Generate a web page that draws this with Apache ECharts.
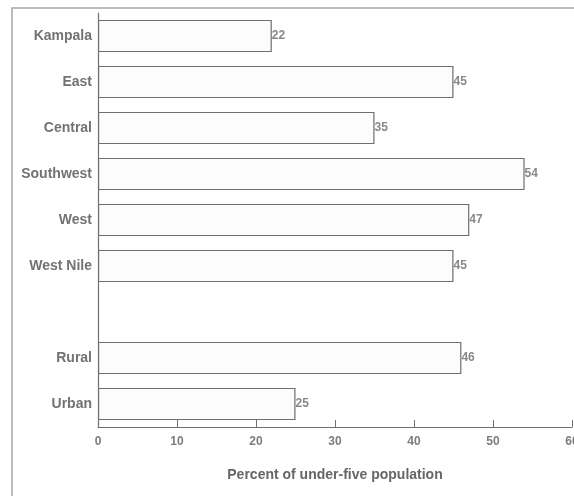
<!DOCTYPE html>
<html>
<head>
<meta charset="utf-8">
<script src="https://cdn.jsdelivr.net/npm/echarts@6/dist/echarts.min.js"></script>
<style>
html,body{margin:0;padding:0;background:#ffffff;}
#c{width:574px;height:496px;}
</style>
</head>
<body>
<div id="c"></div>
<script>
const categories = ['Kampala', 'East', 'Central', 'Southwest', 'West', 'West Nile', '', 'Rural', 'Urban'];
const values = [22, 45, 35, 54, 47, 45, '-', 46, 25];
const xTicks = [0, 10, 20, 30, 40, 50, 60];
const axisTitle = 'Percent of under-five population';

const chart = echarts.init(document.getElementById('c'), null, {renderer: 'canvas'});
chart.setOption({
  animation: false,
  backgroundColor: '#ffffff',
  graphic: [{
    type: 'rect',
    shape: {x: 12, y: 8, width: 600, height: 520},
    style: {fill: 'none', stroke: '#a8a8a8', lineWidth: 1.5},
    silent: true
  }],
  grid: {left: 98, right: 2, top: 13, bottom: 69, containLabel: false, outerBoundsMode: 'none'},
  xAxis: {
    type: 'value',
    min: xTicks[0],
    max: xTicks[xTicks.length - 1],
    interval: 10,
    name: axisTitle,
    nameLocation: 'middle',
    nameGap: 41,
    nameTextStyle: {fontFamily: 'Liberation Sans', fontWeight: 'bold', fontSize: 14, color: '#666666'},
    axisLine: {show: true, lineStyle: {color: '#707070', width: 1.2}},
    axisTick: {show: true, inside: true, length: 7, lineStyle: {color: '#707070'}},
    axisLabel: {margin: 9, fontFamily: 'Liberation Sans', fontWeight: 'bold', fontSize: 12, color: '#7c7c7c', hideOverlap: false},
    splitLine: {show: false}
  },
  yAxis: {
    type: 'category',
    data: categories,
    inverse: true,
    axisLine: {show: true, lineStyle: {color: '#707070', width: 1.2}},
    axisTick: {show: false},
    axisLabel: {margin: 6, fontFamily: 'Liberation Sans', fontWeight: 'bold', fontSize: 14, color: '#727272'}
  },
  series: [{
    type: 'bar',
    data: values,
    barCategoryGap: '30%',
    itemStyle: {color: '#fcfcfc', borderColor: '#6e6e6e', borderWidth: 1.2},
    label: {
      show: true,
      position: 'right',
      distance: 0,
      fontFamily: 'Liberation Sans',
      fontWeight: 'bold',
      fontSize: 12,
      color: '#888888'
    }
  }]
});
</script>
</body>
</html>
